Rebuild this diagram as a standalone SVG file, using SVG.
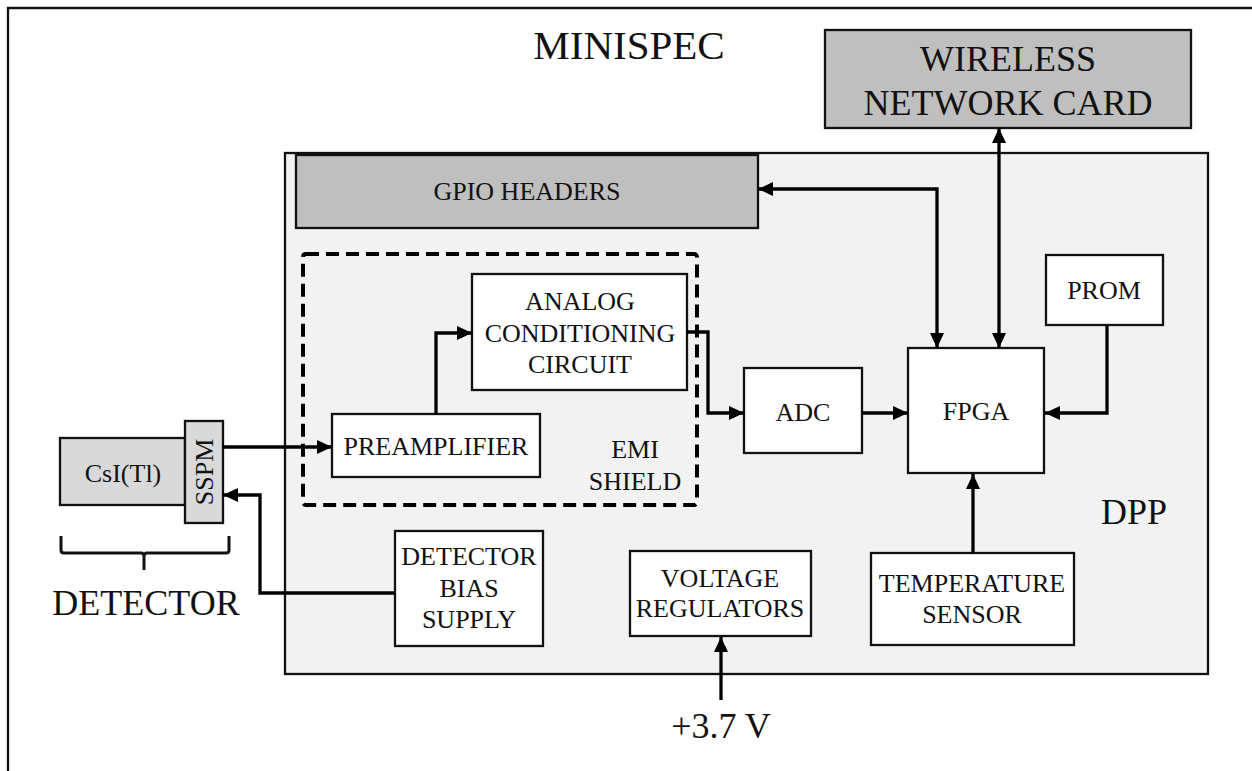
<svg xmlns="http://www.w3.org/2000/svg" width="1252" height="771" viewBox="0 0 1252 771">
<style>
text{font-family:"Liberation Serif","Times New Roman",serif;fill:#111;text-anchor:middle}
.lbl{font-size:26px}
.big{font-size:36px}
.box{fill:#fff;stroke:#111;stroke-width:2.3}
.grey{fill:#bfbfbf;stroke:#111;stroke-width:2.3}
.lgrey{fill:#d9d9d9;stroke:#111;stroke-width:2.3}
.conn{fill:none;stroke:#000;stroke-width:3.3}
</style>
<defs>
<marker id="ah" markerUnits="userSpaceOnUse" markerWidth="15" markerHeight="14" refX="15" refY="7" orient="auto-start-reverse">
<path d="M0,0 L15,7 L0,14 z" fill="#000"/>
</marker>
</defs>
<rect width="1252" height="771" fill="#fff"/>
<g id="minispec">
<path d="M8,771 V8 H1252" fill="none" stroke="#111" stroke-width="2.3"/>
<text x="629" y="59" style="font-size:41px">MINISPEC</text>
</g>
<g id="dpp">
<rect x="285" y="153" width="923" height="521" fill="#f2f2f2" stroke="#111" stroke-width="2.3"/>
<text x="1134" y="524" class="big">DPP</text>
</g>
<g id="wireless">
<rect x="825" y="30" width="366" height="98" class="grey"/>
<text x="1008" y="71" class="big">WIRELESS</text>
<text x="1008" y="115" class="big">NETWORK CARD</text>
</g>
<g id="gpio">
<rect x="296" y="155" width="462" height="73" class="grey"/>
<text x="527" y="200" class="lbl">GPIO HEADERS</text>
</g>
<g id="emi-shield">
<rect x="303" y="254" width="394" height="251" rx="3" fill="none" stroke="#000" stroke-width="4" stroke-dasharray="13 7"/>
<text x="635" y="458" class="lbl">EMI</text>
<text x="635" y="490" class="lbl">SHIELD</text>
</g>
<g id="analog">
<rect x="472" y="274" width="215" height="116" class="box"/>
<text x="580" y="310" class="lbl">ANALOG</text>
<text x="580" y="342" class="lbl">CONDITIONING</text>
<text x="580" y="373" class="lbl">CIRCUIT</text>
</g>
<g id="preamp">
<rect x="332" y="414" width="208" height="63" class="box"/>
<text x="436" y="455" class="lbl">PREAMPLIFIER</text>
</g>
<g id="adc">
<rect x="744" y="368" width="118" height="85" class="box"/>
<text x="803" y="421" class="lbl">ADC</text>
</g>
<g id="fpga">
<rect x="908" y="348" width="136" height="125" class="box"/>
<text x="976" y="420" class="lbl">FPGA</text>
</g>
<g id="prom">
<rect x="1046" y="255" width="117" height="70" class="box"/>
<text x="1104" y="299" class="lbl">PROM</text>
</g>
<g id="temp">
<rect x="871" y="553" width="203" height="92" class="box"/>
<text x="972" y="592" class="lbl">TEMPERATURE</text>
<text x="972" y="623" class="lbl">SENSOR</text>
</g>
<g id="voltage">
<rect x="630" y="551" width="181" height="85" class="box"/>
<text x="720" y="587" class="lbl">VOLTAGE</text>
<text x="720" y="617" class="lbl">REGULATORS</text>
</g>
<g id="bias">
<rect x="395" y="531" width="148" height="115" class="box"/>
<text x="469" y="565" class="lbl">DETECTOR</text>
<text x="469" y="597" class="lbl">BIAS</text>
<text x="469" y="628" class="lbl">SUPPLY</text>
</g>
<g id="detector">
<rect x="60" y="438" width="125" height="67" class="lgrey"/>
<text x="123" y="482" class="lbl">CsI(Tl)</text>
<rect x="185" y="421" width="38" height="102" class="lgrey"/>
<text x="0" y="0" class="lbl" transform="translate(213,472) rotate(-90)">SSPM</text>
<path d="M61,536 V550 Q61,553 64,553 H141 Q144,553 144,556 V570 M144,556 Q144,553 147,553 H226 Q229,553 229,550 V536" fill="none" stroke="#111" stroke-width="3"/>
<text x="146" y="615" class="big">DETECTOR</text>
</g>
<g id="supply">
<text x="721" y="738" class="big">+3.7 V</text>
</g>
<g id="connectors">
<path class="conn" d="M223,447 H332" marker-end="url(#ah)"/>
<path class="conn" d="M395,593 H260 V495 H223" marker-end="url(#ah)"/>
<path class="conn" d="M436,414 V333 H472" marker-end="url(#ah)"/>
<path class="conn" d="M687,332 H708 V413 H744" marker-end="url(#ah)"/>
<path class="conn" d="M862,413 H908" marker-end="url(#ah)"/>
<path class="conn" d="M1107,325 V413 H1045" marker-end="url(#ah)"/>
<path class="conn" d="M973,553 V474" marker-end="url(#ah)"/>
<path class="conn" d="M721,700 V637" marker-end="url(#ah)"/>
<path class="conn" d="M758,189 H937 V348" marker-start="url(#ah)" marker-end="url(#ah)"/>
<path class="conn" d="M999,128 V348" marker-start="url(#ah)" marker-end="url(#ah)"/>
</g>
</svg>
